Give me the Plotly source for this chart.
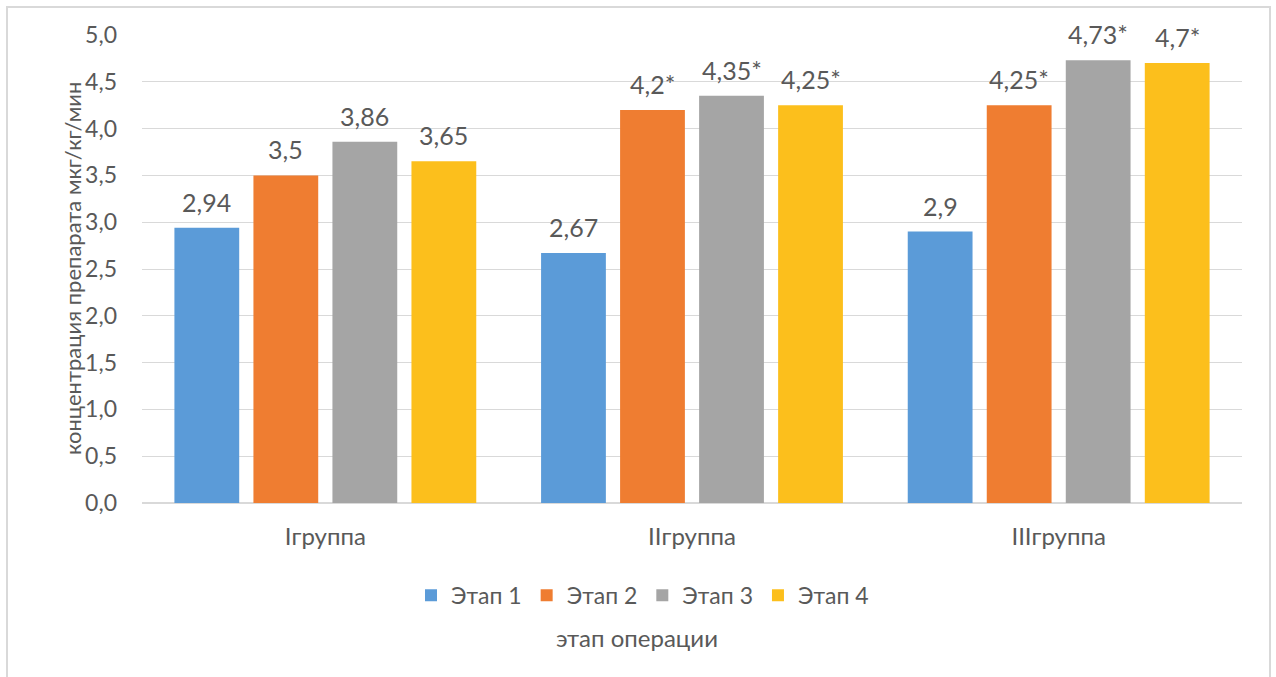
import plotly.graph_objects as go

# Groups on the x axis and the four operation stages
groups = ["Iгруппа", "IIгруппа", "IIIгруппа"]
stages = ["Этап 1", "Этап 2", "Этап 3", "Этап 4"]

# Drug concentration, mcg/kg/min, per stage (one list per stage, one value per group)
stage1 = [2.94, 2.67, 2.90]
stage2 = [3.50, 4.20, 4.25]
stage3 = [3.86, 4.35, 4.73]
stage4 = [3.65, 4.25, 4.70]

# Statistically significant differences are marked with an asterisk
signif1 = [False, False, False]
signif2 = [False, True, True]
signif3 = [False, True, True]
signif4 = [False, True, True]

values = [stage1, stage2, stage3, stage4]
signif = [signif1, signif2, signif3, signif4]
colors = ["#5B9BD8", "#EF7D31", "#A5A5A5", "#FCBF1C"]

FONT = "Lato"
TXT = "#595959"

# Layout geometry (pixels) used for the plot area and bar label placement
W, H = 1276, 677
ML, MR, MT, MB = 142, 34, 35, 174
BARGAP = 0.138
plot_w = W - ML - MR
plot_h = H - MT - MB
slot = plot_w / len(groups) * (1 - BARGAP) / len(stages)


def label(v, star):
    s = f"{v:g}".replace(".", ",")
    return s + ("*" if star else "")


fig = go.Figure()
annotations = []
for k, (name, vals, sig, col) in enumerate(zip(stages, values, signif, colors)):
    fig.add_trace(go.Bar(
        name=name,
        x=groups,
        y=vals,
        marker=dict(color=col, line=dict(width=0)),
    ))
    shift = (k - (len(stages) - 1) / 2) * slot
    for g, v, s in zip(groups, vals, sig):
        annotations.append(dict(
            x=g, y=v, xref="x", yref="y",
            text=label(v, s),
            showarrow=False,
            xshift=shift, yshift=9,
            yanchor="bottom",
            font=dict(family=FONT, size=25, color=TXT),
        ))

annotations += [
    dict(
        text="концентрация препарата мкг/кг/мин",
        xref="paper", yref="paper",
        x=(72 - ML) / plot_w, y=0.5,
        xanchor="center", yanchor="middle",
        textangle=-90,
        showarrow=False,
        font=dict(family=FONT, size=22, color=TXT),
    ),
    dict(
        text="этап операции",
        xref="paper", yref="paper",
        x=(637 - ML) / plot_w, y=(MT + plot_h - 638) / plot_h,
        xanchor="center", yanchor="middle",
        showarrow=False,
        font=dict(family=FONT, size=24, color=TXT),
    ),
]

fig.update_layout(
    width=W,
    height=H,
    barmode="group",
    bargap=BARGAP,
    bargroupgap=0.18,
    separators=", ",
    paper_bgcolor="white",
    plot_bgcolor="white",
    margin=dict(l=ML, r=MR, t=MT, b=MB),
    font=dict(family=FONT, color=TXT),
    showlegend=True,
    legend=dict(
        orientation="h",
        x=0.455, xanchor="center",
        y=-0.197, yanchor="middle",
        font=dict(family=FONT, size=23, color=TXT),
        itemwidth=30,
        traceorder="normal",
    ),
    xaxis=dict(
        showgrid=False,
        showline=True,
        linecolor="#D9D9D9",
        linewidth=1,
        tickfont=dict(family=FONT, size=24, color=TXT),
        ticks="",
        ticklabelstandoff=12,
    ),
    yaxis=dict(
        range=[0, 5],
        dtick=0.5,
        tickformat=".1f",
        showgrid=True,
        gridcolor="#D9D9D9",
        gridwidth=1,
        zeroline=True,
        zerolinecolor="#D9D9D9",
        showline=False,
        tickfont=dict(family=FONT, size=23, color=TXT),
        ticklabelstandoff=24,
    ),
    annotations=annotations,
    shapes=[
        dict(
            type="rect",
            xref="paper", yref="paper",
            x0=(7 - ML) / plot_w, x1=(1270 - ML) / plot_w,
            y0=-0.40, y1=1.0598,
            line=dict(color="#D9D9D9", width=2),
            fillcolor="rgba(0,0,0,0)",
            layer="below",
        )
    ],
)

fig.write_html("out.html")
